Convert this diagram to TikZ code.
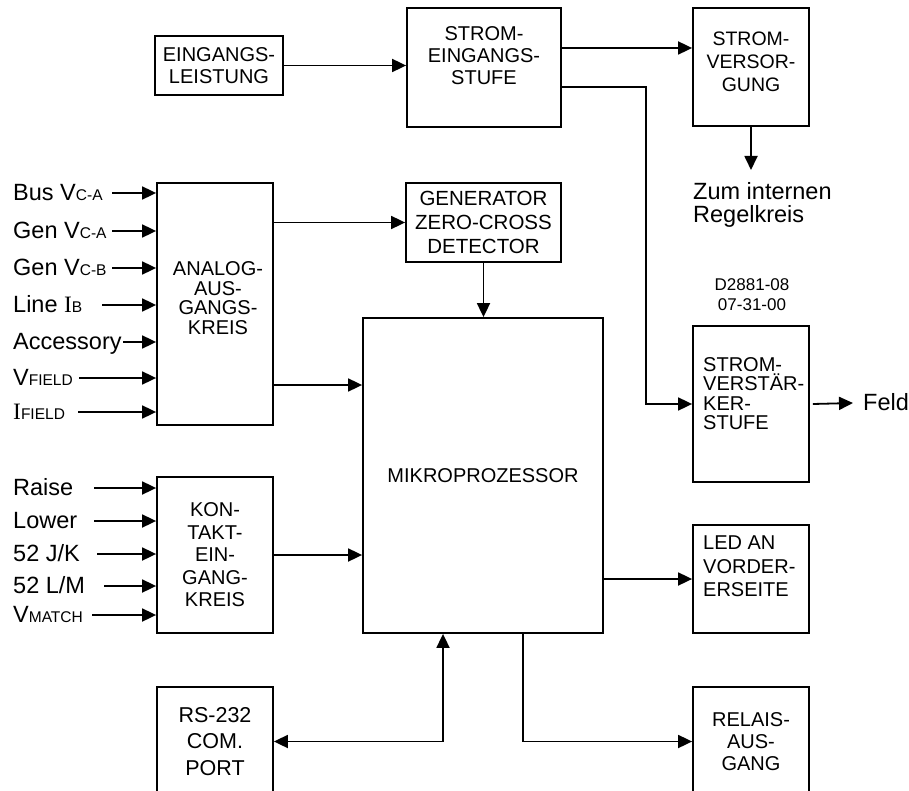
\documentclass[tikz,border=0pt]{standalone}
\usepackage{fontspec}
\setmainfont{Liberation Sans}
\newfontfamily\serifI{Liberation Serif}
\usetikzlibrary{arrows.meta, positioning}
\newcommand{\sml}[1]{{\fontsize{15.5}{15.5}\selectfont #1}}
\newcommand{\sI}{{\serifI I}}

\begin{document}
\begin{tikzpicture}[
  x=1pt, y=-1pt,
  box/.style={draw, line width=1.8pt, inner sep=0pt, align=center, font=\fontsize{20}{22}\selectfont},
  txt/.style={inner sep=0pt, align=center, font=\fontsize{20}{22}\selectfont},
  lbl/.style={inner sep=0pt, anchor=west, text height=15pt, text depth=0pt, font=\fontsize{23.5}{25}\selectfont},
  arr/.style={line width=1.8pt, -{Triangle[length=14pt, width=13pt]}},
  arrb/.style={line width=1.8pt, {Triangle[length=14pt, width=13pt]}-{Triangle[length=14pt, width=13pt]}}
]
\useasboundingbox (0,0) rectangle (909,791);

\node[box, minimum width=128pt, minimum height=59pt] (ein) at (219,65.5) {EINGANGS-\\LEISTUNG};
\node[box, minimum width=154pt, minimum height=119pt] (sein) at (484,67.5) {};
\node[txt] (seinT) at ([yshift=12]sein.center) {STROM-\\EINGANGS-\\STUFE};
\node[box, minimum width=116pt, minimum height=118pt] (sver) at (751,67) {};
\node[txt, font=\fontsize{19.5}{23}\selectfont] (sverT) at ([yshift=5]sver.center) {STROM-\\VERSOR-\\GUNG};
\node[txt, anchor=north west, align=left, font=\fontsize{23.5}{23}\selectfont] (zum) at (693,182.5) {Zum internen\\Regelkreis};

\node[box, minimum width=155pt, minimum height=79pt, font=\fontsize{20.5}{24}\selectfont] (gen) at (483.5,222.5) {GENERATOR\\ZERO-CROSS\\DETECTOR};
\node[box, minimum width=116pt, minimum height=242pt] (ana) at (215,304) {};
\node[txt, font=\fontsize{20}{19.5}\selectfont] (anaT) at ([xshift=3, yshift=6]ana.center) {ANALOG-\\AUS-\\GANGS-\\KREIS};
\node[box, minimum width=240pt, minimum height=315pt, font=\fontsize{20}{24}\selectfont] (mik) at (483,475.5) {MIKROPROZESSOR};
\node[box, minimum width=116pt, minimum height=156pt, font=\fontsize{20}{22.5}\selectfont] (kon) at (215,555) {KON-\\TAKT-\\EIN-\\GANG-\\KREIS};

\node[txt, font=\fontsize{17}{20}\selectfont] (dnr) at (752,295) {D2881-08\\07-31-00};
\node[box, minimum width=116pt, minimum height=156pt] (sverst) at (751,404) {};
\node[txt, anchor=west, align=left, font=\fontsize{20}{19.5}\selectfont] (sverstT) at (703,393.5) {STROM-\\VERSTÄR-\\KER-\\STUFE};
\node[lbl, font=\fontsize{23.5}{25}\selectfont] (feld) at (863,403) {Feld};
\node[box, minimum width=116pt, minimum height=108pt] (led) at (751,579) {};
\node[txt, anchor=west, align=left, font=\fontsize{20}{23.5}\selectfont] (ledT) at (703,566.5) {LED AN\\VORDER-\\ERSEITE};

\node[box, minimum width=116pt, minimum height=109pt, font=\fontsize{21.5}{26.5}\selectfont] (rs) at (215,741.5) {RS-232\\COM.\\PORT};
\node[box, minimum width=116pt, minimum height=109pt] (rel) at (751,741.5) {RELAIS-\\AUS-\\GANG};

\node[lbl] (busA) at (13,193) {Bus V\sml{C-A}};
\node[lbl] (genA) at (13,231) {Gen V\sml{C-A}};
\node[lbl] (genB) at (13,268) {Gen V\sml{C-B}};
\node[lbl] (lineB) at (13,305) {Line \sI\sml{B}};
\node[lbl] (acc) at (13,342) {Accessory};
\node[lbl] (vfield) at (13,378) {V\sml{FIELD}};
\node[lbl] (ifield) at (13,412) {\sI\sml{FIELD}};
\node[lbl] (raise) at (13,488) {Raise};
\node[lbl] (lower) at (13,521) {Lower};
\node[lbl] (jk) at (13,554) {52 J/K};
\node[lbl] (lm) at (13,586) {52 L/M};
\node[lbl] (vmatch) at (13,615) {V\sml{MATCH}};

\draw[arr] ([xshift=99]busA.west) -- (busA -| ana.west);
\draw[arr] ([xshift=99]genA.west) -- (genA -| ana.west);
\draw[arr] ([xshift=99]genB.west) -- (genB -| ana.west);
\draw[arr] ([xshift=89]lineB.west) -- (lineB -| ana.west);
\draw[arr] ([xshift=110]acc.west) -- (acc -| ana.west);
\draw[arr] ([xshift=66]vfield.west) -- (vfield -| ana.west);
\draw[arr] ([xshift=65]ifield.west) -- (ifield -| ana.west);
\draw[arr] ([xshift=81]raise.west) -- (raise -| kon.west);
\draw[arr] ([xshift=81]lower.west) -- (lower -| kon.west);
\draw[arr] ([xshift=84]jk.west) -- (jk -| kon.west);
\draw[arr] ([xshift=91]lm.west) -- (lm -| kon.west);
\draw[arr] ([xshift=79]vmatch.west) -- (vmatch -| kon.west);

\draw[arr] (ein) -- (ein -| sein.west);
\draw[arr] ([yshift=19.5]sein.east) -- ([yshift=19.5]sein.east -| sver.west);
\draw[arr] ([yshift=-19.5]sein.east) -| ([xshift=-46]sverst.west) -- (sverst.west);
\draw[arr] (sver) -- ([yshift=12.5]sver.south |- zum.north);
\draw[arr] ([xshift=3]sverst.east) -- ([xshift=-10]feld.west);
\draw[arr] (gen.west -| ana.east) -- (gen.west);
\draw[arr] (gen) -- (gen |- mik.north);
\draw[arr] ([yshift=-81]ana.east) -- ([yshift=-81]ana.east -| mik.west);
\draw[arr] (kon) -- (kon -| mik.west);
\draw[arr] (led -| mik.east) -- (led);
\draw[arrb] (rs.east) -| ([xshift=-40]mik.south);
\draw[arr] ([xshift=40]mik.south) |- (rel.west);
\end{tikzpicture}
\end{document}
